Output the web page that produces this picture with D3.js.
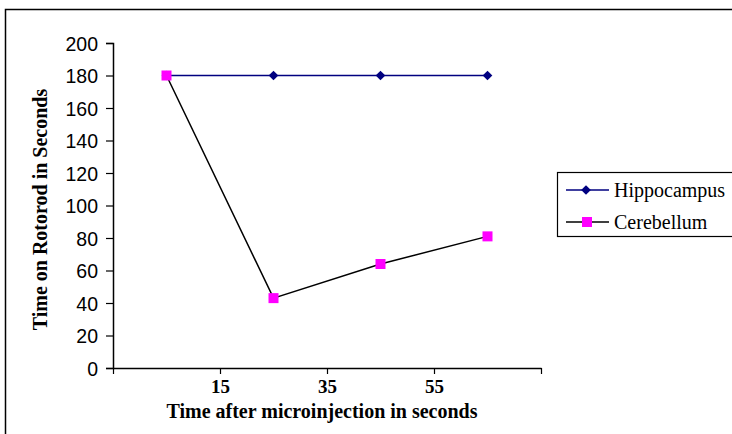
<!DOCTYPE html>
<html>
<head>
<meta charset="utf-8">
<script src="https://cdn.jsdelivr.net/npm/d3@7"></script>
<style>
  body { margin: 0; background: #fff; }
  svg { display: block; }
</style>
</head>
<body>
<script>
var width = 732,
    height = 434;

// data
var times = [5, 25, 45, 65];
var hippocampus = [180, 180, 180, 180];
var cerebellum = [180, 43, 64, 81];
var xTicks = [-5, 15, 35, 55, 75];
var xLabels = [15, 35, 55];
var yTicks = [0, 20, 40, 60, 80, 100, 120, 140, 160, 180, 200];

var serif = '"Liberation Serif", "Times New Roman", serif';

var svg = d3.select('body').append('svg')
    .attr('width', width)
    .attr('height', height);

// outer frame (runs off the right/bottom edge)
svg.append('rect')
    .attr('x', 5.5).attr('y', 9.5)
    .attr('width', 740).attr('height', 440)
    .attr('fill', 'none').attr('stroke', '#000').attr('stroke-width', 1.5);

var x = d3.scaleLinear().domain([-5, 75]).range([113, 541]);
var y = d3.scaleLinear().domain([0, 200]).range([368, 43]);

/* ============================ AXES ============================ */
var yAxis = svg.append('g')
    .attr('transform', 'translate(113,0)')
    .call(d3.axisLeft(y).tickValues(yTicks).tickSize(7).tickPadding(8));
yAxis.select('.domain').attr('stroke-width', 1.5);
yAxis.selectAll('line').attr('stroke-width', 1.2);
yAxis.selectAll('text')
    .style('font-family', '"Liberation Sans", Arial, sans-serif')
    .style('font-size', '19.5px')
    .attr('dy', '0.38em')
    .attr('fill', '#000');

var xAxis = svg.append('g')
    .attr('transform', 'translate(0,368)')
    .call(d3.axisBottom(x).tickValues(xTicks).tickSize(6).tickSizeOuter(0)
      .tickFormat(function(d) { return xLabels.indexOf(d) >= 0 ? d : ''; }));
xAxis.select('.domain').attr('stroke-width', 1.5);
xAxis.selectAll('line').attr('stroke-width', 1.2);
xAxis.selectAll('text')
    .attr('y', 25)
    .attr('dy', 0)
    .style('font-family', serif)
    .style('font-weight', 'bold')
    .style('font-size', '19px')
    .attr('fill', '#000');

svg.append('text')
    .text('Time after microinjection in seconds')
    .attr('x', 322).attr('y', 418)
    .attr('text-anchor', 'middle')
    .style('font-family', serif)
    .style('font-weight', 'bold')
    .style('font-size', '20px');

// y title is clipped at the top in the original
svg.append('clipPath').attr('id', 'yclip')
  .append('rect').attr('x', 0).attr('y', 86).attr('width', 100).attr('height', 300);

svg.append('g')
    .attr('clip-path', 'url(#yclip)')
  .append('text')
    .text('Time on Rotorod in Seconds')
    .attr('transform', 'translate(47,' + (y(100) + 4) + ') rotate(-90)')
    .attr('text-anchor', 'middle')
    .style('font-family', serif)
    .style('font-weight', 'bold')
    .style('font-size', '20px');

/* ============================ SERIES ============================ */
var line = d3.line()
    .x(function(d, i) { return x(times[i]); })
    .y(function(d) { return y(d); });

svg.append('path')
    .datum(hippocampus)
    .attr('d', line)
    .attr('fill', 'none')
    .attr('stroke', '#000080')
    .attr('stroke-width', 1.5);

svg.append('path')
    .datum(cerebellum)
    .attr('d', line)
    .attr('fill', 'none')
    .attr('stroke', '#000')
    .attr('stroke-width', 1.5);

var diamond = d3.symbol().type(d3.symbolDiamond2).size(60);

svg.selectAll('.hip')
    .data(hippocampus)
  .enter().append('path')
    .attr('class', 'hip')
    .attr('d', diamond)
    .attr('transform', function(d, i) { return 'translate(' + [x(times[i]), y(d)] + ')'; })
    .attr('fill', '#000080');

svg.selectAll('.cer')
    .data(cerebellum)
  .enter().append('rect')
    .attr('class', 'cer')
    .attr('x', function(d, i) { return x(times[i]) - 5; })
    .attr('y', function(d) { return y(d) - 5; })
    .attr('width', 10).attr('height', 10)
    .attr('fill', '#ff00ff');

/* ============================ LEGEND ============================ */
var legend = svg.append('g');
legend.append('rect')
    .attr('x', 557.5).attr('y', 172.5)
    .attr('width', 200).attr('height', 64)
    .attr('fill', '#fff').attr('stroke', '#000').attr('stroke-width', 1.2);

var items = [
  { name: 'Hippocampus', color: '#000080', marker: 'diamond' },
  { name: 'Cerebellum', color: '#000', marker: 'square' }
];

var li = legend.selectAll('.li')
    .data(items)
  .enter().append('g')
    .attr('transform', function(d, i) { return 'translate(0,' + (190 + i * 32) + ')'; });

li.append('line')
    .attr('x1', 566).attr('x2', 609)
    .attr('stroke', function(d) { return d.color; })
    .attr('stroke-width', 1.5);

li.filter(function(d) { return d.marker == 'diamond'; })
  .append('path')
    .attr('d', diamond)
    .attr('transform', 'translate(586,0)')
    .attr('fill', '#000080');

li.filter(function(d) { return d.marker == 'square'; })
  .append('rect')
    .attr('x', 582).attr('y', -5).attr('width', 10).attr('height', 10)
    .attr('fill', '#ff00ff');

li.append('text')
    .text(function(d) { return d.name; })
    .attr('x', 614).attr('y', 7)
    .style('font-family', serif)
    .style('font-size', '20px');
</script>
</body>
</html>
